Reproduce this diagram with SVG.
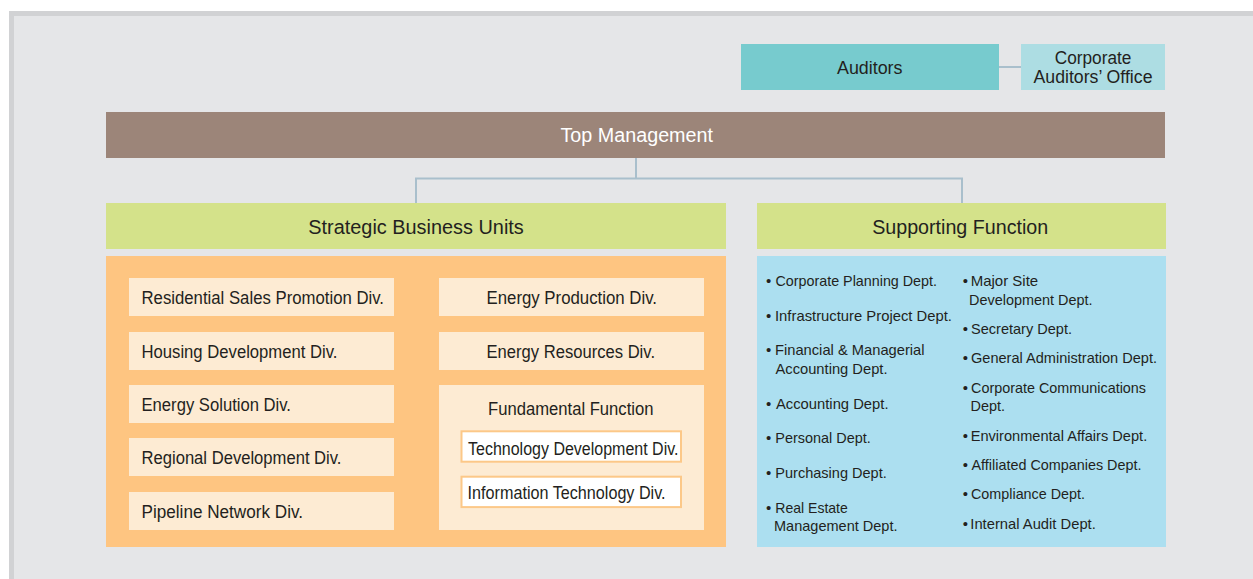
<svg xmlns="http://www.w3.org/2000/svg" width="1253" height="579" viewBox="0 0 1253 579">
<style>
text{font-family:"Liberation Sans",Arial,sans-serif;fill:#231f20}
.t{font-size:20px}
.b{font-size:17.5px}
.s{font-size:15px}
.w{fill:#ffffff}
.peach{fill:#fdebd3}
.green{fill:#d4e28a}
.inner{fill:#ffffff;stroke:#fcc888;stroke-width:2}
.conn{fill:none;stroke:#a9bfcc;stroke-width:2}
</style>
<rect x="0" y="0" width="1253" height="579" fill="#ffffff"/>
<rect x="9" y="11" width="1250" height="575" fill="#d1d2d4"/>
<rect x="14" y="16" width="1245" height="570" fill="#e5e6e8"/>

<g id="connectors">
<line class="conn" x1="999" y1="67" x2="1021" y2="67"/>
<path class="conn" d="M636 158 V178.5 M416 203 V178.5 H962 V203"/>
</g>

<g id="auditors">
<rect x="741" y="44" width="258" height="46" fill="#77cbce"/>
<text class="b" x="837" y="74" textLength="65.5" lengthAdjust="spacingAndGlyphs">Auditors</text>
</g>
<g id="corporate-auditors-office">
<rect x="1021" y="44" width="144" height="46" fill="#addde3"/>
<text class="b" x="1054.8" y="63.5" textLength="76.5" lengthAdjust="spacingAndGlyphs">Corporate</text>
<text class="b" x="1033.5" y="83" textLength="119" lengthAdjust="spacingAndGlyphs">Auditors’ Office</text>
</g>
<g id="top-management">
<rect x="106" y="112" width="1059" height="46" fill="#9c8579"/>
<text class="t w" x="560.5" y="142" textLength="152.5" lengthAdjust="spacingAndGlyphs">Top Management</text>
</g>

<g id="strategic-business-units">
<rect class="green" x="106" y="203" width="620" height="46"/>
<text class="t" x="308.3" y="234" textLength="215.5" lengthAdjust="spacingAndGlyphs">Strategic Business Units</text>
<rect x="106" y="256" width="620" height="291" fill="#fec581"/>
</g>

<g id="residential-sales-promotion">
<rect class="peach" x="129" y="278" width="265" height="38"/>
<text class="b" x="141.5" y="304" textLength="242.5" lengthAdjust="spacingAndGlyphs">Residential Sales Promotion Div.</text>
</g>
<g id="housing-development">
<rect class="peach" x="129" y="332" width="265" height="38"/>
<text class="b" x="141.5" y="358" textLength="196" lengthAdjust="spacingAndGlyphs">Housing Development Div.</text>
</g>
<g id="energy-solution">
<rect class="peach" x="129" y="385" width="265" height="38"/>
<text class="b" x="141.5" y="411" textLength="149.5" lengthAdjust="spacingAndGlyphs">Energy Solution Div.</text>
</g>
<g id="regional-development">
<rect class="peach" x="129" y="438" width="265" height="38"/>
<text class="b" x="141.5" y="464" textLength="200" lengthAdjust="spacingAndGlyphs">Regional Development Div.</text>
</g>
<g id="pipeline-network">
<rect class="peach" x="129" y="492" width="265" height="38"/>
<text class="b" x="141.5" y="518" textLength="161.5" lengthAdjust="spacingAndGlyphs">Pipeline Network Div.</text>
</g>
<g id="energy-production">
<rect class="peach" x="439" y="278" width="265" height="38"/>
<text class="b" x="486.5" y="304" textLength="170.5" lengthAdjust="spacingAndGlyphs">Energy Production Div.</text>
</g>
<g id="energy-resources">
<rect class="peach" x="439" y="332" width="265" height="38"/>
<text class="b" x="486.5" y="358" textLength="168.5" lengthAdjust="spacingAndGlyphs">Energy Resources Div.</text>
</g>
<g id="fundamental-function">
<rect class="peach" x="439" y="385" width="265" height="145"/>
<text class="b" x="488" y="415" textLength="165.5" lengthAdjust="spacingAndGlyphs">Fundamental Function</text>
</g>
<g id="technology-development">
<rect class="inner" x="461.5" y="431.3" width="219.5" height="30.4"/>
<text class="b" x="468" y="455" textLength="210.5" lengthAdjust="spacingAndGlyphs">Technology Development Div.</text>
</g>
<g id="information-technology">
<rect class="inner" x="461.5" y="476.7" width="219.5" height="30.4"/>
<text class="b" x="467.6" y="499" textLength="198" lengthAdjust="spacingAndGlyphs">Information Technology Div.</text>
</g>

<g id="supporting-function">
<rect class="green" x="757" y="203" width="409" height="46"/>
<text class="t" x="872.2" y="233.5" textLength="176" lengthAdjust="spacingAndGlyphs">Supporting Function</text>
<rect x="757" y="256" width="409" height="291" fill="#acdff0"/>
</g>

<g id="support-list-left" class="s">
<text class="s" x="766" y="286">•</text><text class="s" x="775.5" y="286" textLength="161.5" lengthAdjust="spacingAndGlyphs">Corporate Planning Dept.</text>
<text class="s" x="766" y="321">•</text><text class="s" x="775" y="321" textLength="177" lengthAdjust="spacingAndGlyphs">Infrastructure Project Dept.</text>
<text class="s" x="766" y="355">•</text><text class="s" x="775" y="355" textLength="149.5" lengthAdjust="spacingAndGlyphs">Financial &amp; Managerial</text>
<text class="s" x="775.5" y="374" textLength="112" lengthAdjust="spacingAndGlyphs">Accounting Dept.</text>
<text class="s" x="766" y="409">•</text><text class="s" x="776" y="409" textLength="112.5" lengthAdjust="spacingAndGlyphs">Accounting Dept.</text>
<text class="s" x="766" y="443">•</text><text class="s" x="775.3" y="443" textLength="95.5" lengthAdjust="spacingAndGlyphs">Personal Dept.</text>
<text class="s" x="766" y="478">•</text><text class="s" x="775.3" y="478" textLength="111.5" lengthAdjust="spacingAndGlyphs">Purchasing Dept.</text>
<text class="s" x="766" y="513">•</text><text class="s" x="775.3" y="513" textLength="72.5" lengthAdjust="spacingAndGlyphs">Real Estate</text>
<text class="s" x="774" y="531" textLength="123.5" lengthAdjust="spacingAndGlyphs">Management Dept.</text>
</g>
<g id="support-list-right" class="s">
<text class="s" x="962.8" y="286">•</text><text class="s" x="970.7" y="286" textLength="67.5" lengthAdjust="spacingAndGlyphs">Major Site</text>
<text class="s" x="969" y="305" textLength="123.5" lengthAdjust="spacingAndGlyphs">Development Dept.</text>
<text class="s" x="962.8" y="334">•</text><text class="s" x="971" y="334" textLength="101" lengthAdjust="spacingAndGlyphs">Secretary Dept.</text>
<text class="s" x="962.8" y="363">•</text><text class="s" x="971" y="363" textLength="186" lengthAdjust="spacingAndGlyphs">General Administration Dept.</text>
<text class="s" x="962.8" y="393">•</text><text class="s" x="971" y="393" textLength="175" lengthAdjust="spacingAndGlyphs">Corporate Communications</text>
<text class="s" x="970.5" y="411" textLength="34.5" lengthAdjust="spacingAndGlyphs">Dept.</text>
<text class="s" x="962.8" y="441">•</text><text class="s" x="970.7" y="441" textLength="176.5" lengthAdjust="spacingAndGlyphs">Environmental Affairs Dept.</text>
<text class="s" x="962.8" y="469.5">•</text><text class="s" x="971.5" y="469.5" textLength="170" lengthAdjust="spacingAndGlyphs">Affiliated Companies Dept.</text>
<text class="s" x="962.8" y="499">•</text><text class="s" x="971" y="499" textLength="114" lengthAdjust="spacingAndGlyphs">Compliance Dept.</text>
<text class="s" x="962.8" y="528.5">•</text><text class="s" x="970.3" y="528.5" textLength="125.5" lengthAdjust="spacingAndGlyphs">Internal Audit Dept.</text>
</g>
</svg>
